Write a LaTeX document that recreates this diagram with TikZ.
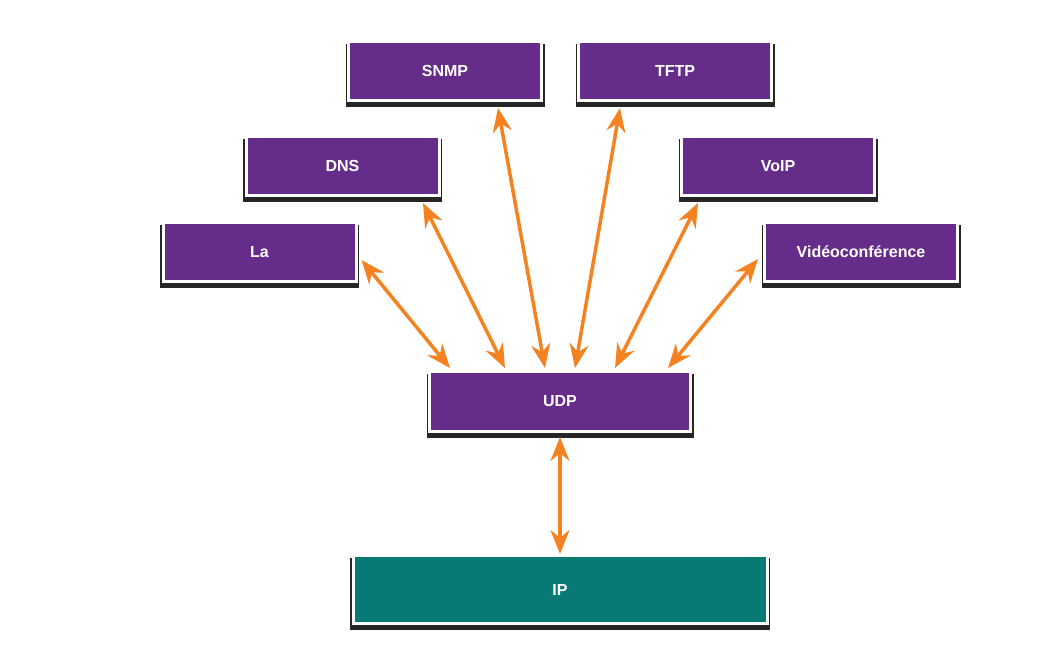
\documentclass[tikz,border=0pt]{standalone}
\usepackage{fontspec}
\setmainfont{Liberation Sans}
\usetikzlibrary{arrows.meta}
\definecolor{udppurple}{RGB}{101,45,137}
\definecolor{ipteal}{RGB}{8,122,118}
\definecolor{arroworange}{RGB}{245,130,32}
\pgfdeclarelayer{background}
\pgfsetlayers{background,main}
\begin{document}
\begin{tikzpicture}[x=1pt,y=-1pt,
  proto/.style={draw=white, line width=3pt, fill=udppurple, text=white,
    font=\fontsize{16}{19}\selectfont\bfseries, minimum width=193pt, minimum height=59pt},
  boxshadow/.style={fill=black, opacity=0.85},
  link/.style={draw=arroworange, line width=3.5pt,
    {Stealth[length=24pt,width=19pt,inset=8pt]}-{Stealth[length=24pt,width=19pt,inset=8pt]}}]
\useasboundingbox (0,0) rectangle (1041,658);

\node[proto] (snmp) at (445,71) {SNMP};
\node[proto] (tftp) at (675,71) {TFTP};
\node[proto] (dns) at (342.5,166) {DNS};
\node[proto] (voip) at (778,166) {VoIP};
\node[proto] (la) at (259.5,252) {La};
\node[proto] (video) at (861,252) {Vidéoconférence};
\node[proto, minimum width=261pt, minimum height=60pt] (udp) at (560,401.5) {UDP};
\node[proto, fill=ipteal, minimum width=414pt, minimum height=68pt] (ip) at (560,589.5) {IP};

% shadows under the boxes
\begin{pgfonlayer}{background}
\foreach \b in {snmp,tftp,dns,voip,la,video,udp,ip}
  \fill[boxshadow] ([xshift=-1.5pt,yshift=-4pt]\b.north west) rectangle ([xshift=1.5pt,yshift=-5pt]\b.south east);
\end{pgfonlayer}

\path[link] ([xshift=4pt,yshift=-8pt]la.east) -- ([xshift=-110pt,yshift=2pt]udp.north);
\path[link] ([xshift=80.5pt,yshift=-6pt]dns.south) -- ([xshift=-55pt,yshift=2pt]udp.north);
\path[link] ([xshift=53pt,yshift=-6pt]snmp.south) -- ([xshift=-15pt,yshift=2pt]udp.north);
\path[link] ([xshift=-55pt,yshift=-6pt]tftp.south) -- ([xshift=15pt,yshift=2pt]udp.north);
\path[link] ([xshift=-80pt,yshift=-6pt]voip.south) -- ([xshift=55pt,yshift=2pt]udp.north);
\path[link] ([xshift=-5pt,yshift=-7pt]video.west) -- ([xshift=108pt,yshift=2pt]udp.north);

\path[link] ([yshift=-4pt]udp.south) -- (ip.north);
\end{tikzpicture}
\end{document}
